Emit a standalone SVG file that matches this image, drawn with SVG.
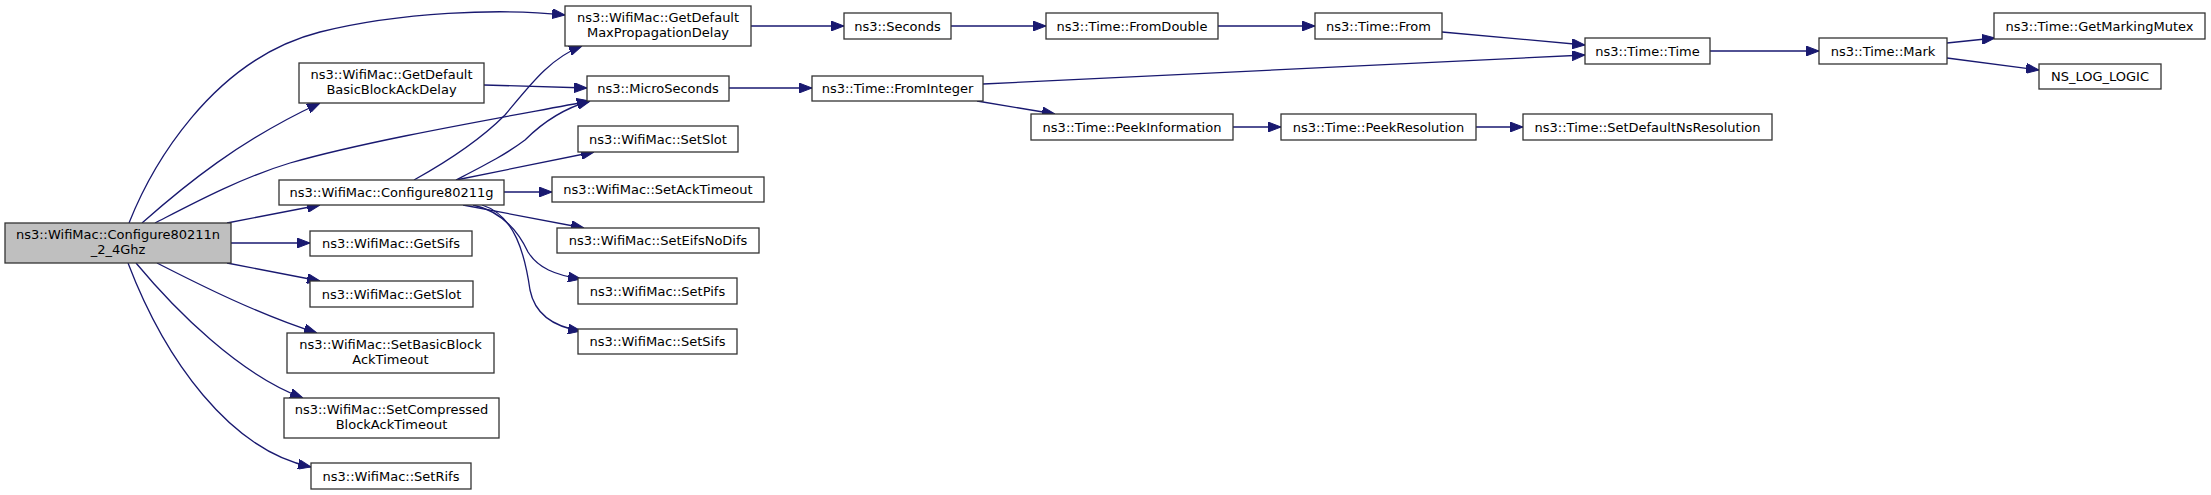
<svg xmlns="http://www.w3.org/2000/svg" width="2211" height="495" viewBox="0 0 2211 495">
<style>
.n rect{fill:#ffffff;stroke:#333333;stroke-width:1.3}
.n.root rect{fill:#bfbfbf}
.n text{font-family:"DejaVu Sans",sans-serif;font-size:13px;text-anchor:middle;fill:#000000}
.e path{fill:none;stroke:#191970;stroke-width:1.3;marker-end:url(#arr)}
</style>
<defs>
<marker id="arr" viewBox="0 0 13 10" refX="13" refY="5" markerWidth="13" markerHeight="10" markerUnits="userSpaceOnUse" orient="auto">
<path d="M0,0 L13,5 L0,10 z" fill="#191970" stroke="#191970"/>
</marker>
</defs>
<rect width="2211" height="495" fill="#ffffff"/>
<g id="connectors" class="e">
<path d="M129,223 C150,170 210,60 320,32 C400,12 500,8 565,15"/>
<path d="M142,223 C185,185 240,140 320,103"/>
<path d="M155,223 C190,205 240,178 290,163 C370,140 500,118 590,101"/>
<path d="M227,223 L320,205"/>
<path d="M231,243 L310,243"/>
<path d="M227,263 L320,281"/>
<path d="M157,263 C200,285 260,315 317,333"/>
<path d="M136,263 C175,310 240,375 303,398"/>
<path d="M128,263 C165,360 230,450 311,467"/>
<path d="M484,85 L587,88"/>
<path d="M414,180 C450,160 480,140 505,115 C530,85 550,58 582,46"/>
<path d="M456,180 C485,165 505,155 525,140 C545,120 565,108 590,101"/>
<path d="M456,180 L594,152"/>
<path d="M504,192 L552,192"/>
<path d="M463,205 L584,228"/>
<path d="M473,205 C505,212 520,235 528,252 C538,268 555,275 581,279"/>
<path d="M482,205 C515,215 525,255 530,290 C535,315 555,327 581,331"/>
<path d="M750,26 L844,26"/>
<path d="M729,88 L812,88"/>
<path d="M951,26 L1046,26"/>
<path d="M1218,26 L1315,26"/>
<path d="M1442,32 L1585,45"/>
<path d="M983,84 L1585,55"/>
<path d="M977,101 L1055,114"/>
<path d="M1233,127 L1281,127"/>
<path d="M1476,127 L1523,127"/>
<path d="M1710,51 L1819,51"/>
<path d="M1947,43 L1995,38"/>
<path d="M1947,58 L2039,70"/>
</g>
<g id="n0" class="n root"><rect x="5" y="223" width="226" height="40"/><text x="118" y="239">ns3::WifiMac::Configure80211n</text><text x="118" y="254">_2_4Ghz</text></g>
<g id="n1" class="n"><rect x="565" y="6" width="186" height="40"/><text x="658" y="22">ns3::WifiMac::GetDefault</text><text x="658" y="37">MaxPropagationDelay</text></g>
<g id="n2" class="n"><rect x="299" y="63" width="185" height="40"/><text x="391.5" y="79">ns3::WifiMac::GetDefault</text><text x="391.5" y="94">BasicBlockAckDelay</text></g>
<g id="n3" class="n"><rect x="587" y="76" width="142" height="25"/><text x="658" y="93">ns3::MicroSeconds</text></g>
<g id="n4" class="n"><rect x="578" y="126" width="160" height="26"/><text x="658" y="143.5">ns3::WifiMac::SetSlot</text></g>
<g id="n5" class="n"><rect x="279" y="180" width="225" height="25"/><text x="391.5" y="197">ns3::WifiMac::Configure80211g</text></g>
<g id="n6" class="n"><rect x="552" y="177" width="212" height="25"/><text x="658" y="194">ns3::WifiMac::SetAckTimeout</text></g>
<g id="n7" class="n"><rect x="557" y="228" width="202" height="25"/><text x="658" y="245">ns3::WifiMac::SetEifsNoDifs</text></g>
<g id="n8" class="n"><rect x="310" y="231" width="162" height="25"/><text x="391" y="248">ns3::WifiMac::GetSifs</text></g>
<g id="n9" class="n"><rect x="310" y="281" width="163" height="26"/><text x="391.5" y="298.5">ns3::WifiMac::GetSlot</text></g>
<g id="n10" class="n"><rect x="287" y="333" width="207" height="40"/><text x="390.5" y="349">ns3::WifiMac::SetBasicBlock</text><text x="390.5" y="364">AckTimeout</text></g>
<g id="n11" class="n"><rect x="284" y="398" width="215" height="40"/><text x="391.5" y="414">ns3::WifiMac::SetCompressed</text><text x="391.5" y="429">BlockAckTimeout</text></g>
<g id="n12" class="n"><rect x="311" y="463" width="160" height="26"/><text x="391" y="480.5">ns3::WifiMac::SetRifs</text></g>
<g id="n13" class="n"><rect x="578" y="278" width="159" height="26"/><text x="657.5" y="295.5">ns3::WifiMac::SetPifs</text></g>
<g id="n14" class="n"><rect x="578" y="329" width="159" height="25"/><text x="657.5" y="346">ns3::WifiMac::SetSifs</text></g>
<g id="n15" class="n"><rect x="844" y="13" width="107" height="26"/><text x="897.5" y="30.5">ns3::Seconds</text></g>
<g id="n16" class="n"><rect x="1046" y="13" width="172" height="26"/><text x="1132" y="30.5">ns3::Time::FromDouble</text></g>
<g id="n17" class="n"><rect x="1315" y="13" width="127" height="26"/><text x="1378.5" y="30.5">ns3::Time::From</text></g>
<g id="n18" class="n"><rect x="812" y="76" width="171" height="25"/><text x="897.5" y="93">ns3::Time::FromInteger</text></g>
<g id="n19" class="n"><rect x="1031" y="114" width="202" height="26"/><text x="1132" y="131.5">ns3::Time::PeekInformation</text></g>
<g id="n20" class="n"><rect x="1281" y="114" width="195" height="26"/><text x="1378.5" y="131.5">ns3::Time::PeekResolution</text></g>
<g id="n21" class="n"><rect x="1585" y="38" width="125" height="26"/><text x="1647.5" y="55.5">ns3::Time::Time</text></g>
<g id="n22" class="n"><rect x="1819" y="38" width="128" height="26"/><text x="1883" y="55.5">ns3::Time::Mark</text></g>
<g id="n23" class="n"><rect x="1994" y="13" width="211" height="26"/><text x="2099.5" y="30.5">ns3::Time::GetMarkingMutex</text></g>
<g id="n24" class="n"><rect x="2039" y="64" width="122" height="25"/><text x="2100" y="81">NS_LOG_LOGIC</text></g>
<g id="n25" class="n"><rect x="1523" y="114" width="249" height="26"/><text x="1647.5" y="131.5">ns3::Time::SetDefaultNsResolution</text></g>
</svg>
